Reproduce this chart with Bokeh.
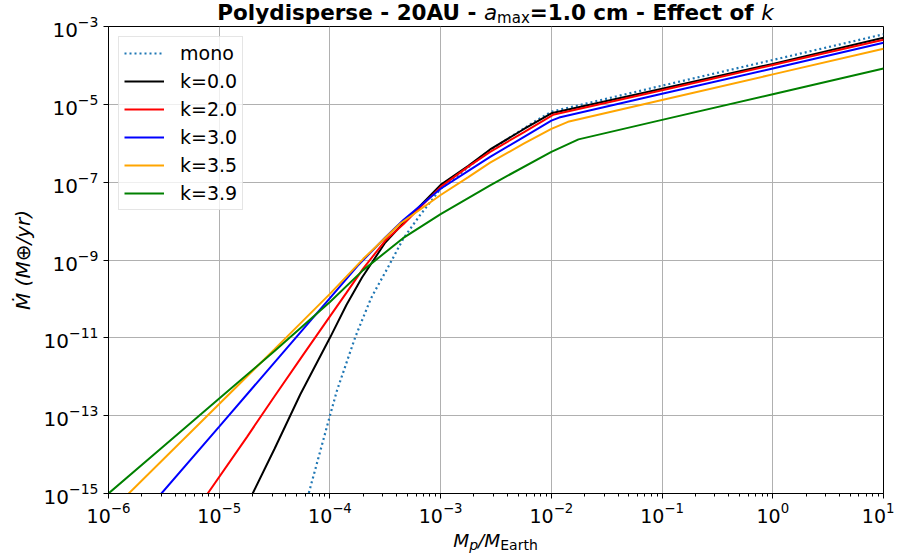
import numpy as np
from bokeh.plotting import figure
from bokeh.models import (ColumnDataSource, FixedTicker, Legend, LegendItem, Div)
from bokeh.layouts import column
from bokeh.embed import file_html
from bokeh.resources import INLINE

# ---- data (log10 values) ----
mono_lx = [-4.30, -4.192, -4.0, -3.937, -3.771, -3.63, -3.575, -3.487, -3.337, -3.187,
           -3.0, -2.885, -2.582, -2.161, -2.0, -1.0, 0.0, 1.0]
mono_ly = [-16.1, -15.0, -13.0, -12.36, -10.98, -9.99, -9.70, -9.25, -8.45, -7.85,
           -7.17, -6.92, -6.23, -5.46, -5.19, -4.52, -3.86, -3.2]

k0_lx = [-5.0, -4.698, -4.5, -4.267, -4.0, -3.85, -3.71, -3.5, -3.337, -3.0, -2.75,
         -2.553, -2.25, -2.0, -1.0, 0.0, 1.0]
k0_ly = [-16.7, -15.0, -13.85, -12.45, -11.0, -10.15, -9.45, -8.55, -8.05, -7.07, -6.58,
         -6.16, -5.64, -5.23, -4.60, -3.96, -3.29]

k2_lx = [-5.5, -5.104, -4.75, -4.5, -4.25, -4.0, -3.85, -3.7, -3.5, -3.337, -3.0, -2.75,
         -2.553, -2.25, -1.985, -1.0, 0.0, 1.0]
k2_ly = [-16.63, -15.0, -13.55, -12.5, -11.47, -10.45, -9.84, -9.22, -8.5, -8.08, -7.12, -6.6,
         -6.22, -5.72, -5.27, -4.64, -3.99, -3.34]

k3_lx = [-6.0, -5.522, -5.0, -4.5, -4.0, -3.75, -3.5, -3.337, -3.0, -2.75, -2.553, -2.25,
         -2.0, -1.93, -1.0, 0.0, 1.0]
k3_ly = [-16.58, -15.0, -13.28, -11.63, -9.98, -9.15, -8.42, -7.97, -7.17, -6.71, -6.35, -5.84,
         -5.42, -5.34, -4.73, -4.08, -3.42]

k35_lx = [-6.0, -5.817, -5.0, -4.5, -4.0, -3.699, -3.367, -3.0, -2.75, -2.553, -2.25, -2.0,
          -1.85, -1.0, 0.0, 1.0]
k35_ly = [-15.52, -15.0, -12.7, -11.29, -9.87, -8.97, -8.07, -7.33, -6.87, -6.5, -6.01, -5.63,
          -5.45, -4.89, -4.23, -3.57]

k39_lx = [-6.0, -5.5, -5.0, -4.5, -4.0, -3.7, -3.34, -3.0, -2.553, -2.0, -1.755, -1.0, 0.0, 1.0]
k39_ly = [-15.0, -13.78, -12.56, -11.34, -10.08, -9.26, -8.44, -7.82, -7.08, -6.22, -5.90,
          -5.40, -4.74, -4.08]

series_labels = ["mono", "k=0.0", "k=2.0", "k=3.0", "k=3.5", "k=3.9"]
series_colors = ["#1f77b4", "black", "red", "blue", "orange", "green"]
series_data = [(mono_lx, mono_ly), (k0_lx, k0_ly), (k2_lx, k2_ly), (k3_lx, k3_ly),
               (k35_lx, k35_ly), (k39_lx, k39_ly)]

x_major = [1e-6, 1e-5, 1e-4, 1e-3, 1e-2, 1e-1, 1e0, 1e1]
y_major = [1e-15, 1e-13, 1e-11, 1e-9, 1e-7, 1e-5, 1e-3]

FONT = "DejaVu Sans"

p = figure(x_axis_type="log", y_axis_type="log",
           x_range=(1e-6, 1e1), y_range=(1e-15, 1e-3),
           frame_width=775, frame_height=467,
           min_border_left=108, min_border_right=11,
           min_border_top=13, min_border_bottom=37,
           output_backend="svg", toolbar_location=None, margin=0)
p.title = None
p.background_fill_color = "white"
p.border_fill_alpha = 0
p.outline_line_color = "black"
p.outline_line_width = 1

x_minor = [m * d for d in x_major[:-1] for m in range(2, 10)]
p.xaxis.ticker = FixedTicker(ticks=x_major, minor_ticks=x_minor)
p.yaxis.ticker = FixedTicker(ticks=y_major, minor_ticks=[])
p.xgrid.ticker = FixedTicker(ticks=x_major)
p.ygrid.ticker = FixedTicker(ticks=y_major)
for g in (p.xgrid, p.ygrid):
    g.grid_line_color = "#b0b0b0"
    g.grid_line_width = 1

for ax in (p.xaxis, p.yaxis):
    ax.major_label_text_font = FONT
    ax.major_label_text_color = "black"
    ax.major_tick_in = 0
    ax.major_tick_out = 5
    ax.minor_tick_in = 0
    ax.minor_tick_out = 3
    ax.major_tick_line_color = "black"
    ax.minor_tick_line_color = "black"
    ax.axis_line_color = "black"
p.yaxis.major_label_text_font_size = "20px"
p.yaxis.major_label_standoff = 5
p.xaxis.major_label_text_font_size = "19px"
p.xaxis.major_label_standoff = 3

p.yaxis.axis_label = "Ṁ (M⊕/yr)"
p.yaxis.axis_label_text_font = FONT
p.yaxis.axis_label_text_font_size = "20px"
p.yaxis.axis_label_text_font_style = "italic"
p.yaxis.axis_label_text_color = "black"
p.yaxis.axis_label_standoff = 6

items = []
for (lx, ly), lab_txt, col in zip(series_data, series_labels, series_colors):
    src = ColumnDataSource(dict(x=[10.0 ** v for v in lx], y=[10.0 ** v for v in ly]))
    if lab_txt == "mono":
        r = p.line("x", "y", source=src, line_color=col, line_width=2.2, line_dash="2 3")
    else:
        r = p.line("x", "y", source=src, line_color=col, line_width=2)
    items.append(LegendItem(label=lab_txt, renderers=[r]))

legend = Legend(items=items, location="top_left")
legend.label_text_font = FONT
legend.label_text_font_size = "19px"
legend.label_text_color = "black"
legend.glyph_width = 40
legend.glyph_height = 20
legend.label_height = 20
legend.label_standoff = 16
legend.spacing = 6
legend.padding = 5
legend.margin = 10
legend.border_line_color = "#cccccc"
legend.border_line_width = 1
legend.background_fill_alpha = 0.8
p.add_layout(legend)

title_html = (
    "<div style=\"width:775px;margin-left:108px;text-align:center;white-space:nowrap;"
    "font-family:'DejaVu Sans';font-size:21.5px;line-height:25px;color:black;\">"
    "<b>Polydisperse - 20AU - </b><i>a</i>"
    "<span style=\"font-size:15px;line-height:0;vertical-align:-3px;\">max</span>"
    "<b>=1.0 cm - Effect of </b><i>k</i></div>"
)
xlabel_html = (
    "<div style=\"width:775px;margin-left:108px;text-align:center;white-space:nowrap;"
    "font-family:'DejaVu Sans';font-size:18.5px;line-height:21.5px;color:black;\">"
    "<i>M</i><span style=\"font-size:14px;line-height:0;vertical-align:-3px;\"><i>p</i></span>"
    "<i>/M</i><span style=\"font-size:14px;line-height:0;vertical-align:-3px;\">Earth</span></div>"
)
# the title box overlaps the (transparent) top border of the figure by 12px
title_div = Div(text=title_html, width=894, height=25, margin=(0, 0, -12, 0))
xlabel_div = Div(text=xlabel_html, width=894, height=24, margin=0)

layout = column(title_div, p, xlabel_div, spacing=0)

open("out.html", "w").write(file_html(layout, INLINE))
